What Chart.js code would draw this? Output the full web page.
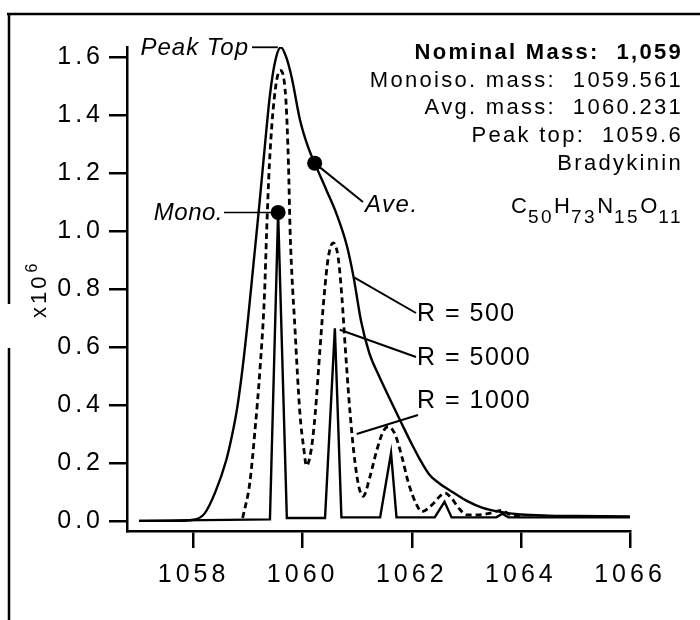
<!DOCTYPE html>
<html>
<head>
<meta charset="utf-8">
<title>Bradykinin isotope profile</title>
<script src="https://cdn.jsdelivr.net/npm/chart.js@4.4.1/dist/chart.umd.min.js"></script>
<style>
  html, body { margin: 0; padding: 0; background: #fff; }
  #wrap { width: 700px; height: 620px; position: relative; }
</style>
</head>
<body>
<div id="wrap"><canvas id="spec"></canvas></div>
<script>
// m/z and intensity (x10^6)

// R = 500 envelope
const mass500 = [1057.0, 1057.6, 1058.0, 1058.2, 1058.4, 1058.6, 1058.7, 1058.8, 1058.9, 1059.0,
  1059.1, 1059.2, 1059.3, 1059.4, 1059.5, 1059.6, 1059.7, 1059.8, 1059.95, 1060.1,
  1060.22, 1060.44, 1060.62, 1060.81, 1060.93, 1061.07, 1061.22, 1061.4, 1061.6, 1061.83,
  1062.0, 1062.14, 1062.32, 1062.5, 1062.7, 1063.0, 1063.3, 1063.6, 1064.0, 1064.5,
  1065.0, 1066.0];
const int500 = [0.0, 0.0, 0.004, 0.025, 0.10, 0.21, 0.29, 0.39, 0.53, 0.70,
  0.89, 1.08, 1.28, 1.47, 1.59, 1.635, 1.60, 1.53, 1.385, 1.29,
  1.235, 1.14, 1.06, 0.95, 0.845, 0.69, 0.58, 0.50, 0.42, 0.33,
  0.265, 0.215, 0.16, 0.13, 0.105, 0.07, 0.045, 0.032, 0.022, 0.018,
  0.017, 0.015];

// R = 1000 (dashed)
const mass1000 = [1058.9, 1059.03, 1059.12, 1059.22, 1059.3, 1059.34, 1059.39, 1059.48, 1059.585, 1059.69,
  1059.74, 1059.77, 1059.86, 1059.95, 1060.02, 1060.07, 1060.16, 1060.23, 1060.32, 1060.39,
  1060.47, 1060.56, 1060.65, 1060.72, 1060.78, 1060.87, 1060.96, 1061.04, 1061.11, 1061.23,
  1061.36, 1061.48, 1061.57, 1061.69, 1061.82, 1061.94, 1062.09, 1062.18, 1062.4, 1062.52,
  1062.61, 1062.73, 1062.86, 1063.01, 1063.25, 1063.44, 1063.65, 1063.8, 1064.0];
const int1000 = [0.01, 0.13, 0.30, 0.53, 0.78, 1.00, 1.23, 1.46, 1.555, 1.46,
  1.23, 1.00, 0.66, 0.37, 0.25, 0.19, 0.25, 0.37, 0.60, 0.77,
  0.91, 0.96, 0.91, 0.77, 0.60, 0.37, 0.20, 0.11, 0.085, 0.15,
  0.245, 0.31, 0.325, 0.30, 0.22, 0.13, 0.055, 0.032, 0.061, 0.086,
  0.096, 0.078, 0.044, 0.021, 0.021, 0.027, 0.036, 0.021, 0.015];

// R = 5000 (narrow sticks)
const mass5000 = [1057.0, 1059.4, 1059.55, 1059.71, 1060.41, 1060.59, 1060.71, 1061.42, 1061.62, 1061.72,
  1062.42, 1062.6, 1062.73, 1063.55, 1063.66, 1063.77, 1066.0];
const int5000 = [0.0, 0.005, 1.065, 0.01, 0.01, 0.665, 0.012, 0.012, 0.234, 0.012,
  0.012, 0.066, 0.012, 0.012, 0.025, 0.012, 0.012];

// marked points: monoisotopic and average
const markMass = [1059.55, 1060.22];
const markInt = [1.065, 1.235];

const xTicks = [1058, 1060, 1062, 1064, 1066];
const yTicks = [0, 0.2, 0.4, 0.6, 0.8, 1.0, 1.2, 1.4, 1.6];

const infoLines = [
  'Nominal Mass:  1,059',
  'Monoiso. mass:  1059.561',
  'Avg. mass:  1060.231',
  'Peak top:  1059.6',
  'Bradykinin'
];
const formula = [['C', '50'], ['H', '73'], ['N', '15'], ['O', '11']];

const FONT = "'Liberation Sans', Arial, Helvetica, sans-serif";

function pts(xs, ys) {
  return xs.map((x, i) => ({ x: x, y: ys[i] }));
}

function txt(ctx, s, x, y, size, opts) {
  opts = opts || {};
  ctx.font = (opts.style || '') + ' ' + (opts.weight || '') + ' ' + size + 'px ' + FONT;
  ctx.letterSpacing = (opts.spacing || 0) + 'px';
  ctx.textAlign = opts.align || 'left';
  ctx.textBaseline = 'alphabetic';
  ctx.fillText(s, x, y);
}

function line(ctx, x1, y1, x2, y2, w) {
  ctx.beginPath();
  ctx.lineWidth = w;
  ctx.moveTo(x1, y1);
  ctx.lineTo(x2, y2);
  ctx.stroke();
}

const decor = {
  id: 'decor',
  beforeDraw(chart) {
    // spaced-out tick lettering like the original typesetting
    chart.ctx.letterSpacing = '4px';
  },
  afterDraw(chart) {
    const ctx = chart.ctx;
    const xs = chart.scales.x, ys = chart.scales.y;
    const px = v => xs.getPixelForValue(v);
    const py = v => ys.getPixelForValue(v);
    ctx.save();
    ctx.fillStyle = '#000';
    ctx.strokeStyle = '#000';
    ctx.lineCap = 'butt';

    // frame around the panel
    line(ctx, 7, 14, 700, 14, 2.5);
    line(ctx, 9, 13, 9, 304, 2.5);
    line(ctx, 9, 348, 9, 620, 2.5);

    // y multiplier, rotated
    ctx.save();
    ctx.translate(46, 318);
    ctx.rotate(-Math.PI / 2);
    txt(ctx, 'x10', 0, 0, 22, { spacing: 3 });
    const w = ctx.measureText('x10').width;
    txt(ctx, '6', w + 1, -9, 16);
    ctx.restore();

    // Peak Top
    const top = Math.max.apply(null, int500);
    const topY = py(top);
    const topX = px(mass500[int500.indexOf(top)]);
    txt(ctx, 'Peak Top', 249, topY + 8, 24, { style: 'italic', spacing: 1, align: 'right' });
    line(ctx, 252, topY, topX - 3, topY, 1.8);

    // Mono.
    const mx = px(markMass[0]), my = py(markInt[0]);
    txt(ctx, 'Mono.', 223, my + 8, 24, { style: 'italic', spacing: 0.5, align: 'right' });
    line(ctx, 224, my, mx, my, 1.5);

    // Ave.
    const ax = px(markMass[1]), ay = py(markInt[1]);
    line(ctx, ax, ay, 363, 202, 2);
    txt(ctx, 'Ave.', 365, 212, 24, { style: 'italic', spacing: 1.5 });

    // resolution labels
    line(ctx, px(1060.95), py(0.84), 416, 313, 2);
    txt(ctx, 'R = 500', 417, 321, 25, { spacing: 1.5 });
    line(ctx, px(1060.68), py(0.66), 416, 357, 2);
    txt(ctx, 'R = 5000', 417, 365, 25, { spacing: 1.5 });
    line(ctx, px(1060.99), py(0.30), 418, 415, 2);
    txt(ctx, 'R = 1000', 417, 408, 25, { spacing: 1.5 });

    // compound info block
    const base = [59, 87, 114, 142, 170];
    infoLines.forEach((s, i) => {
      txt(ctx, s, 683, base[i], 22, { weight: i === 0 ? 'bold' : '', spacing: 2.3, align: 'right' });
    });

    // molecular formula with subscripts
    let tot = 0;
    const parts = [];
    formula.forEach(([el, n]) => {
      ctx.font = '22px ' + FONT; ctx.letterSpacing = '1px';
      const a = ctx.measureText(el).width;
      ctx.font = '19px ' + FONT; ctx.letterSpacing = '2.5px';
      const b = ctx.measureText(n).width;
      parts.push([el, n, a, b]);
      tot += a + b;
    });
    let x = 683 - tot;
    parts.forEach(([el, n, a, b]) => {
      txt(ctx, el, x, 213, 22, { spacing: 1 });
      x += a;
      txt(ctx, n, x, 223, 19, { spacing: 2.5 });
      x += b;
    });

    ctx.restore();
  }
};

new Chart(document.getElementById('spec'), {
  type: 'line',
  data: {
    datasets: [
      {
        label: 'R = 500',
        data: pts(mass500, int500),
        borderColor: '#000',
        borderWidth: 2.4,
        pointRadius: 0,
        cubicInterpolationMode: 'monotone',
        fill: false,
      },
      {
        label: 'R = 1000',
        data: pts(mass1000, int1000),
        borderColor: '#000',
        borderWidth: 2.8,
        borderDash: [6, 4],
        pointRadius: 0,
        cubicInterpolationMode: 'monotone',
        fill: false,
      },
      {
        label: 'R = 5000',
        data: pts(mass5000, int5000),
        borderColor: '#000',
        borderWidth: 2.4,
        pointRadius: 0,
        tension: 0,
        fill: false,
      },
      {
        label: 'marks',
        data: pts(markMass, markInt),
        showLine: false,
        pointRadius: 7.5,
        pointBackgroundColor: '#000',
        pointBorderWidth: 0,
      },
    ],
  },
  options: {
    responsive: true,
    maintainAspectRatio: false,
    animation: false,
    events: [],
    layout: { padding: { left: 0, right: 70, top: 47, bottom: 0 } },
    plugins: { legend: { display: false }, tooltip: { enabled: false } },
    scales: {
      x: {
        type: 'linear',
        min: 1056.78,
        max: 1066,
        afterBuildTicks: s => { s.ticks = xTicks.map(v => ({ value: v })); },
        afterFit: s => { s.height = 89; },
        ticks: {
          color: '#000',
          font: { family: FONT, size: 25 },
          padding: 12,
          maxRotation: 0,
          callback: v => String(v),
        },
        grid: { drawOnChartArea: false, drawTicks: true, tickLength: 17, color: '#000', lineWidth: 2.5 },
        border: { display: true, color: '#000', width: 2.5 },
      },
      y: {
        type: 'linear',
        min: -0.035,
        max: 1.636,
        afterBuildTicks: s => { s.ticks = yTicks.map(v => ({ value: v })); },
        afterFit: s => { s.width = 127; },
        ticks: {
          color: '#000',
          font: { family: FONT, size: 25 },
          padding: 5,
          callback: v => v.toFixed(1),
        },
        grid: { drawOnChartArea: false, drawTicks: true, tickLength: 18, color: '#000', lineWidth: 2.5 },
        border: { display: true, color: '#000', width: 2.5 },
      },
    },
  },
  plugins: [decor],
});
</script>
</body>
</html>
